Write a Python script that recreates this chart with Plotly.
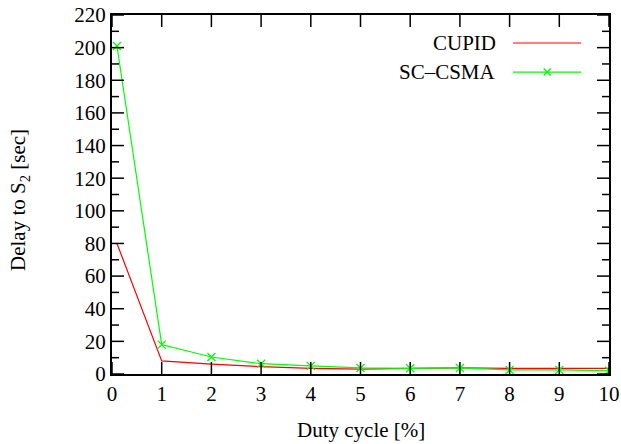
import plotly.graph_objects as go
from plotly.subplots import make_subplots

duty = [0.1, 1, 2, 3, 4, 5, 6, 7, 8, 9, 10]
cupid = [80, 8, 6, 4.5, 3.5, 3.0, 3.5, 3.8, 3.5, 3.5, 3.5]
sccsma = [201, 18, 10.4, 6.3, 5.0, 3.7, 3.5, 3.7, 2.5, 2.5, 2.0]
series_names = ["CUPID", "SC\u2013CSMA"]
x_title = "Duty cycle [%]"
y_title = "Delay to S<sub>2</sub> [sec]"
x_tickvals = [0, 1, 2, 3, 4, 5, 6, 7, 8, 9, 10]
y_major = [0, 20, 40, 60, 80, 100, 120, 140, 160, 180, 200, 220]
y_minor = [10, 30, 50, 70, 90, 110, 130, 150, 170, 190, 210]

FONT = "Liberation Serif"
FS = 21
RED = "#ff0000"
GREEN = "#00ff00"
W, H = 621, 444
ML, MR, MT, MB = 112, 12, 15, 70
PW, PH = W - ML - MR, H - MT - MB
XR, YR = [0, 10], [0, 220]
MAJ, MIN = 12, 7

fig = make_subplots(rows=1, cols=1)
fig.add_trace(go.Scatter(x=duty, y=cupid, mode="lines", name=series_names[0],
                         line=dict(color=RED, width=1.2)), row=1, col=1)
fig.add_trace(go.Scatter(x=duty, y=sccsma, mode="lines+markers", name=series_names[1],
                         line=dict(color=GREEN, width=1.2),
                         marker=dict(symbol="x-thin", size=8, line=dict(color=GREEN, width=1.3))),
              row=1, col=1)

# inward tick marks on all four sides (gnuplot style), drawn on the axes' own scales
xu = (XR[1] - XR[0]) / PW   # data units per pixel along x
yu = (YR[1] - YR[0]) / PH   # data units per pixel along y
tx, ty = [], []
for v in x_tickvals:
    tx += [v, v, None, v, v, None]
    ty += [YR[0], YR[0] + MAJ * yu, None, YR[1], YR[1] - MAJ * yu, None]
for vals, ln in ((y_major, MAJ), (y_minor, MIN)):
    for v in vals:
        tx += [XR[0], XR[0] + ln * xu, None, XR[1], XR[1] - ln * xu, None]
        ty += [v, v, None, v, v, None]
fig.add_trace(go.Scatter(x=tx, y=ty, mode="lines", line=dict(color="black", width=1.5),
                         hoverinfo="skip", showlegend=False, connectgaps=False), row=1, col=1)

# gnuplot-style key: text right-aligned, sample drawn to its right
key_rows = [0.922, 0.841]
key_colors = [RED, GREEN]
x0, x1, xt = 0.807, 0.944, 0.777
for name, yy, col in zip(series_names, key_rows, key_colors):
    fig.add_shape(type="line", xref="paper", yref="paper", x0=x0, x1=x1, y0=yy, y1=yy,
                  line=dict(color=col, width=1.2))
    fig.add_annotation(x=xt, y=yy, xref="paper", yref="paper", text=name, showarrow=False,
                       xanchor="right", yanchor="middle", font=dict(family=FONT, size=FS, color="black"))
xm, ym, dx, dy = (x0 + x1) / 2, key_rows[1], 3.5 / PW, 3.5 / PH
fig.add_shape(type="path", xref="paper", yref="paper",
              path=f"M {xm-dx},{ym-dy} L {xm+dx},{ym+dy} M {xm-dx},{ym+dy} L {xm+dx},{ym-dy}",
              line=dict(color=GREEN, width=1.3))

# axis titles
fig.add_annotation(x=0.5, y=-0.156, xref="paper", yref="paper", text=x_title, showarrow=False,
                   xanchor="center", yanchor="middle", font=dict(family=FONT, size=FS, color="black"))
fig.add_annotation(x=-0.187, y=0.485, xref="paper", yref="paper", text=y_title, showarrow=False,
                   textangle=-90, xanchor="center", yanchor="middle",
                   font=dict(family=FONT, size=FS, color="black"))

base = dict(showgrid=False, zeroline=False, showline=True, linecolor="black", linewidth=2,
            mirror=True, ticks="", automargin=False,
            tickfont=dict(family=FONT, size=FS, color="black"))
fig.update_xaxes(row=1, col=1, range=XR, tickmode="array", tickvals=x_tickvals,
                 ticklabeloverflow="allow", **base)
fig.update_yaxes(row=1, col=1, range=YR, tickmode="array", tickvals=y_major,
                 ticklabeloverflow="allow", **base)
fig.update_layout(width=W, height=H, showlegend=False,
                  plot_bgcolor="white", paper_bgcolor="white",
                  margin=dict(l=ML, r=MR, t=MT, b=MB))

fig.write_html("out.html")
